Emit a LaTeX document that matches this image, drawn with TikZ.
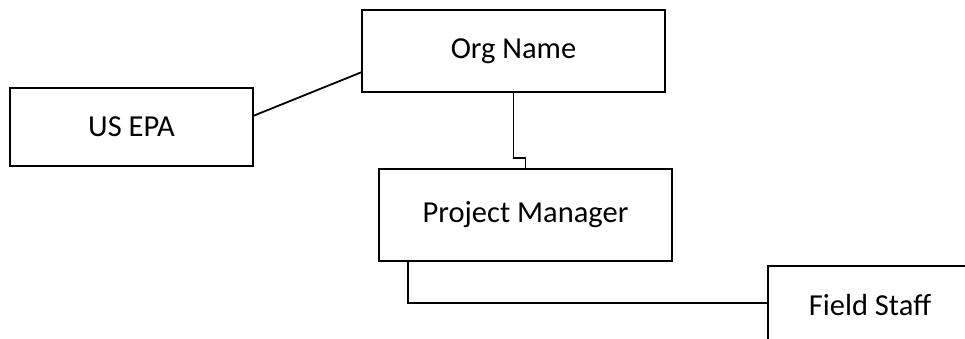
\documentclass[tikz,border=0pt]{standalone}
\usepackage{fontspec}
\setmainfont{Carlito}
\usetikzlibrary{positioning,calc}

\begin{document}
\begin{tikzpicture}[x=1pt,y=-1pt,
				every node/.style={block},
				block/.style={draw,rectangle,line width=2pt,outer sep=0pt,inner sep=0pt,font=\fontsize{30.5}{36}\selectfont},
				link/.style={line width=1.8pt}]
				\useasboundingbox (0,0) rectangle (965,339);
				\clip (0,0) rectangle (965,339);
				\node (ORG)   [minimum width=303pt,minimum height=82pt] at (513.5,51)  {Org Name};
				\node (EPA)   [minimum width=243pt,minimum height=78pt] at (131.5,127) {US EPA};
				\node (PM)    [minimum width=293pt,minimum height=92pt] at (525.5,215) {Project Manager};
				\node (FIELD) [minimum width=204pt,minimum height=78pt] at (870,305)   {Field Staff};
				
				\draw[link] ([yshift=11pt]EPA.east) -- ([yshift=-21pt]ORG.west);
				\draw[link] (ORG.south) -- ++(0,66) -| (PM.north);
				\draw[link] ([xshift=29pt]PM.south west) |- ([yshift=2pt]FIELD.west);
			\end{tikzpicture}
\end{document}
